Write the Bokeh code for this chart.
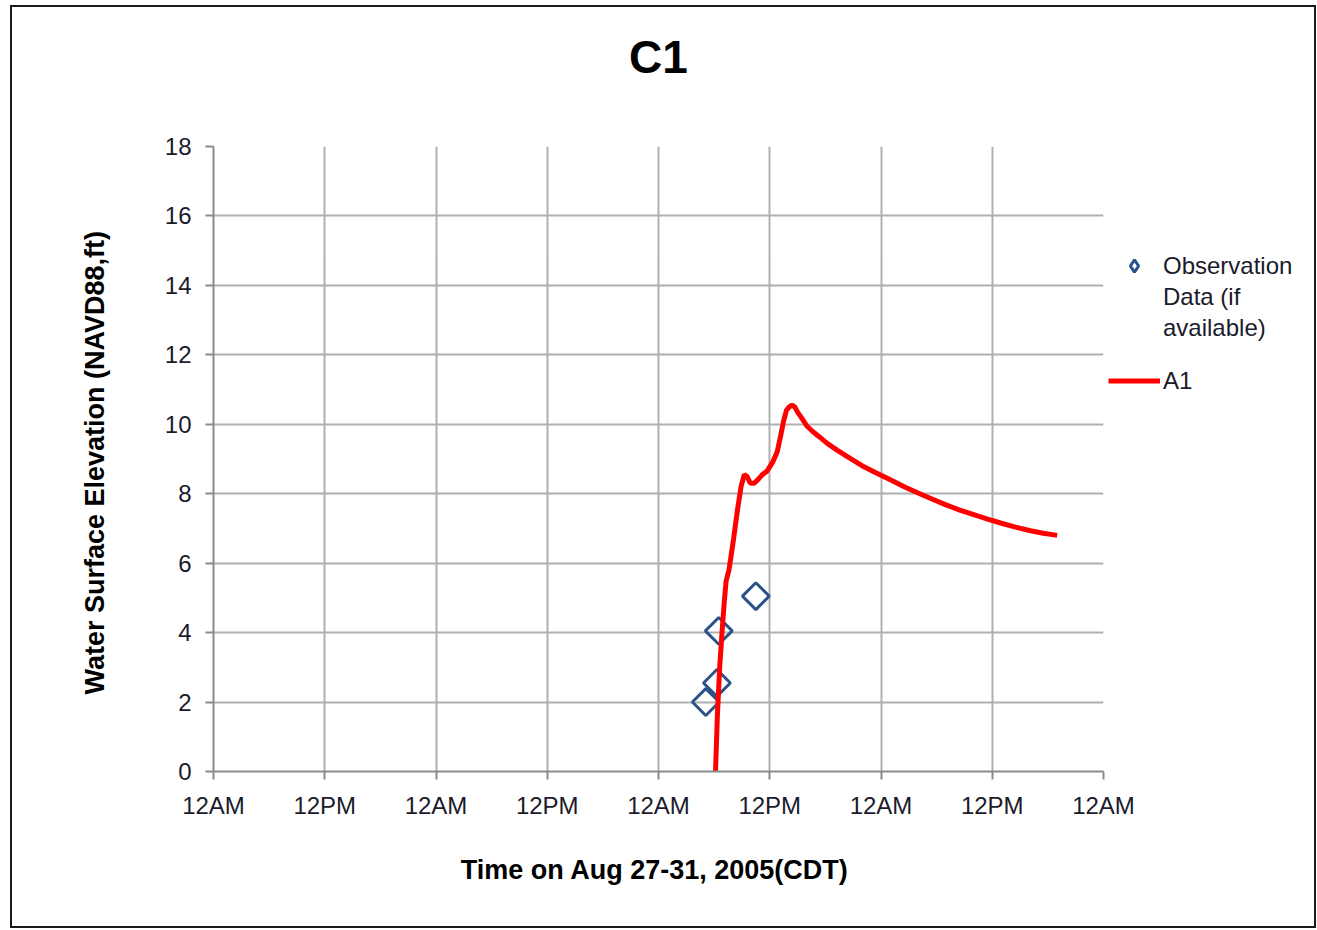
import numpy as np
from bokeh.plotting import figure
from bokeh.layouts import row
from bokeh.models import FixedTicker, Legend, LegendItem, Range1d, Title
from bokeh.embed import file_html
from bokeh.resources import INLINE

# ---- data (hours since 12AM Aug 27, 2005 CDT) ----
tick_hours = [0, 12, 24, 36, 48, 60, 72, 84, 96]
tick_labels = ["12AM", "12PM", "12AM", "12PM", "12AM", "12PM", "12AM", "12PM", "12AM"]

obs_hours = [53.1, 54.3, 54.5, 58.5]
obs_elev = [2.0, 2.55, 4.05, 5.05]

a1_hours = [54.15, 54.35, 54.6, 54.85, 55.1, 55.3, 55.6, 56.1, 56.5, 56.9, 57.25, 57.55,
            57.9, 58.3, 58.7, 59.2, 59.7, 60.3, 60.8, 61.2, 61.5, 61.8, 62.1, 62.4,
            62.7, 63.0, 63.4, 64.0, 64.6, 65.3, 66.2, 67.3, 68.5, 70.0, 71.5, 73.0,
            74.5, 76.0, 77.5, 79.0, 80.5, 82.0, 83.5, 85.0, 86.5, 88.0, 89.5, 91.0]
a1_elev = [0.0, 1.6, 3.0, 4.0, 4.9, 5.5, 5.8, 6.7, 7.5, 8.2, 8.55, 8.5,
           8.3, 8.3, 8.4, 8.55, 8.65, 8.9, 9.2, 9.7, 10.1, 10.4, 10.5, 10.55,
           10.5, 10.35, 10.2, 9.95, 9.8, 9.65, 9.45, 9.25, 9.05, 8.8, 8.6, 8.4,
           8.2, 8.02, 7.85, 7.68, 7.53, 7.4, 7.27, 7.15, 7.04, 6.94, 6.86, 6.8]

obs_label_lines = ["Observation", "Data (if", "available)"]
a1_label = "A1"

FONT = "Liberation Sans"
TXT = "#1b1b2b"
OBS_COLOR = "#2b5289"
A1_COLOR = "#ff0000"

p = figure(width=1136, height=919, output_backend="svg", toolbar_location=None,
           x_range=Range1d(0, 96), y_range=Range1d(0, 18),
           min_border_left=201, min_border_right=45,
           min_border_top=139, min_border_bottom=155)

p.title.text = "C1"
p.title.align = "center"
p.title.text_font = FONT
p.title.text_font_size = "46px"
p.title.text_font_style = "bold"
p.title.text_color = "#000000"
p.title.standoff = 0

# spacer between title and plot area
p.add_layout(Title(text=" ", text_font_size="2px", standoff=60), "above")

p.outline_line_color = None
p.background_fill_color = "white"
p.border_fill_color = "white"

# axes
p.xaxis.ticker = FixedTicker(ticks=tick_hours)
p.xaxis.major_label_overrides = {h: l for h, l in zip(tick_hours, tick_labels)}
p.yaxis.ticker = FixedTicker(ticks=list(range(0, 19, 2)))
for ax in (p.xaxis, p.yaxis):
    ax.axis_line_color = "#8a8a8a"
    ax.axis_line_width = 2
    ax.major_tick_line_color = "#8a8a8a"
    ax.major_tick_line_width = 2
    ax.major_tick_out = 8
    ax.major_tick_in = 0
    ax.minor_tick_line_color = None
    ax.major_label_text_font = FONT
    ax.major_label_text_font_size = "24px"
    ax.major_label_text_color = TXT
    ax.axis_label_text_font = FONT
    ax.axis_label_text_font_size = "27px"
    ax.axis_label_text_font_style = "bold"
    ax.axis_label_text_color = "#000000"

p.xaxis.axis_label = "Time  on Aug 27-31, 2005(CDT)"
p.xaxis.major_label_standoff = 12
p.xaxis.axis_label_standoff = 33
p.yaxis.axis_label = "Water Surface Elevation  (NAVD88,ft)"
p.yaxis.major_label_standoff = 14
p.yaxis.axis_label_standoff = 52

p.xgrid.grid_line_color = "#b0b0b0"
p.ygrid.grid_line_color = "#b0b0b0"
p.xgrid.grid_line_width = 2
p.ygrid.grid_line_width = 2

p.scatter(obs_hours, obs_elev, marker="square", angle=np.pi / 4, size=19,
          line_color=OBS_COLOR, line_width=3, fill_color=None)
p.line(a1_hours, a1_elev, line_color=A1_COLOR, line_width=5)

# ---- legend panel (separate transparent figure to the right, keys only) ----
lf = figure(width=206, height=919, output_backend="svg", toolbar_location=None,
            x_range=Range1d(0, 1), y_range=Range1d(0, 1), min_border=0,
            x_axis_type=None, y_axis_type=None)
lf.outline_line_color = None
lf.background_fill_color = None
lf.border_fill_color = None
lf.styles = {"margin-left": "-40px"}

obs_key = lf.scatter(obs_hours[:1], obs_elev[:1], marker="diamond", size=18,
                     line_color=OBS_COLOR, line_width=3, fill_color=None, visible=False)
blank_key = lf.scatter(obs_hours[:1], obs_elev[:1], marker="circle", size=1,
                       line_alpha=0, fill_alpha=0, visible=False)
a1_key = lf.line(a1_hours[:2], a1_elev[:2], line_color=A1_COLOR, line_width=5, visible=False)


def style_legend(lg, gh, spacing):
    lg.background_fill_alpha = 0
    lg.border_line_color = None
    lg.label_text_font = FONT
    lg.label_text_font_size = "24px"
    lg.label_text_color = TXT
    lg.glyph_width = 52
    lg.glyph_height = gh
    lg.label_standoff = 3
    lg.spacing = spacing
    lg.padding = 0
    lg.margin = 0


leg_obs = Legend(items=[LegendItem(label=obs_label_lines[0], renderers=[obs_key]),
                        LegendItem(label=obs_label_lines[1], renderers=[blank_key]),
                        LegendItem(label=obs_label_lines[2], renderers=[blank_key])],
                 location=(0, 428))
style_legend(leg_obs, 31, 0)
leg_a1 = Legend(items=[LegendItem(label=a1_label, renderers=[a1_key])], location=(0, 375))
style_legend(leg_a1, 31, 0)
lf.add_layout(leg_obs, "center")
lf.add_layout(leg_a1, "center")

layout = row(p, lf, spacing=0)
layout.styles = {"border": "2px solid #1a1a1a", "margin-left": "10px", "margin-top": "5px",
                 "background-color": "white"}

open("out.html", "w").write(file_html(layout, INLINE))
